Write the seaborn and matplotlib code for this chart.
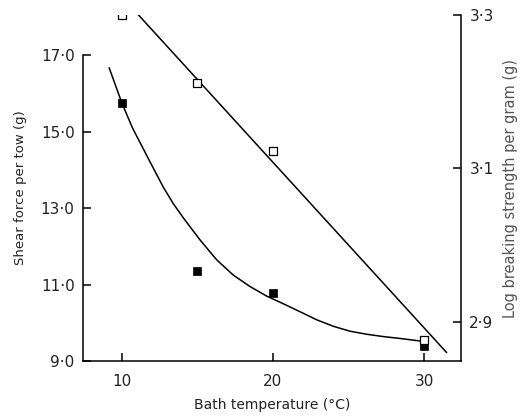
import matplotlib
matplotlib.use("Agg")
import matplotlib.pyplot as plt
import seaborn as sns
import pandas as pd
import numpy as np

# --- data ---
temp = [10, 15, 20, 30]
shear_force = [15.76, 11.36, 10.79, 9.39]          # filled squares, left axis
log_strength = [3.300, 3.212, 3.123, 2.876]        # open squares, right axis

curve_x = [9.15, 10.0, 10.7, 11.85, 12.74, 13.40, 14.06, 15.17, 16.27, 17.37,
           18.48, 19.58, 20.68, 21.79, 22.89, 23.99, 25.10, 26.21, 27.30, 28.63, 30.0]
curve_y = [16.68, 15.75, 15.10, 14.22, 13.55, 13.12, 12.75, 12.17, 11.65, 11.25,
           10.95, 10.70, 10.50, 10.29, 10.08, 9.91, 9.78, 9.70, 9.64, 9.58, 9.51]

line_x = [10.26, 31.5]
line_y = [3.318, 2.860]

left_ticks = [9.0, 11.0, 13.0, 15.0, 17.0]
left_labels = ["9·0", "11·0", "13·0", "15·0", "17·0"]
right_ticks = [2.9, 3.1, 3.3]
right_labels = ["2·9", "3·1", "3·3"]
x_ticks = [10, 20, 30]
x_labels = ["10", "20", "30"]

sns.set_theme(style="white")
plt.rcParams["font.family"] = ["DejaVu Sans"]

fig = plt.figure(figsize=(5.25, 4.17), dpi=100)
ax = fig.add_axes([83/525, 1 - 361/417, (461 - 83)/525, (361 - 15)/417])
ax2 = ax.twinx()

df_pts = pd.DataFrame({"temp": temp, "shear": shear_force, "logs": log_strength})
df_curve = pd.DataFrame({"x": curve_x, "y": curve_y})
df_line = pd.DataFrame({"x": line_x, "y": line_y})

sns.lineplot(data=df_curve, x="x", y="y", ax=ax, color="black", lw=1.1, sort=False)
sns.scatterplot(data=df_pts, x="temp", y="shear", ax=ax, marker="s", color="black",
                s=30, edgecolor="black", linewidth=0.5, zorder=5)

sns.lineplot(data=df_line, x="x", y="y", ax=ax2, color="black", lw=1.1, sort=False)
sns.scatterplot(data=df_pts, x="temp", y="logs", ax=ax2, marker="s", facecolor="white",
                s=28, edgecolor="black", linewidth=0.9, zorder=5)

ax.set_xlim(7.42, 32.45)
ax.set_ylim(9.0, 18.06)
ax2.set_ylim(2.849, 3.3)

for a in (ax, ax2):
    a.set_facecolor("none")
    for s in a.spines.values():
        s.set_color("black")
        s.set_linewidth(1.1)
    a.spines["top"].set_visible(False)

ax.spines["right"].set_visible(False)
ax.spines["left"].set_bounds(9.0, 17.0)
ax2.spines["left"].set_visible(False)
ax2.spines["bottom"].set_visible(False)
ax2.spines["right"].set_visible(True)

ax.set_xticks(x_ticks)
ax.set_xticklabels(x_labels, fontsize=11)
ax.set_yticks(left_ticks)
ax.set_yticklabels(left_labels, fontsize=11)
ax2.set_yticks(right_ticks)
ax2.set_yticklabels(right_labels, fontsize=11)

ax.tick_params(axis="y", direction="in", length=6, width=1.1, color="black",
               left=True, pad=6, labelcolor="#222222")
ax.tick_params(axis="x", direction="in", length=6, width=1.1, color="black",
               bottom=True, pad=9, labelcolor="#222222")
ax2.tick_params(axis="y", direction="in", length=6, width=1.1, color="black",
                right=True, pad=6, labelcolor="#222222")

ax.set_xlabel("Bath temperature (°C)", fontsize=10, color="#222222", labelpad=7)
ax.set_ylabel("Shear force per tow (g)", fontsize=9.5, color="#222222", labelpad=10)
ax2.set_ylabel("Log breaking strength per gram (g)", fontsize=10.5, color="#555555",
               labelpad=7)

fig.savefig("out.png", dpi=100)
